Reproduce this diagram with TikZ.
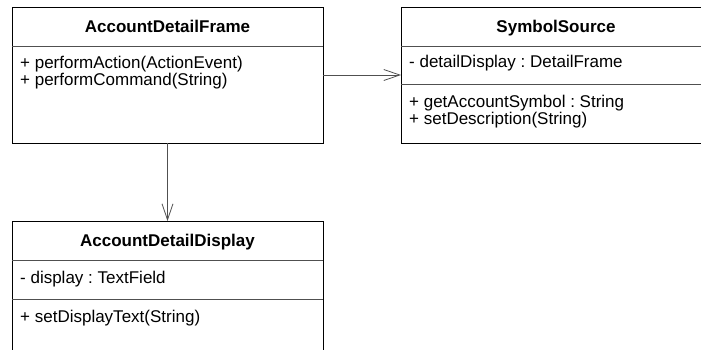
\documentclass[tikz,border=0pt]{standalone}
\usepackage{fontspec}
\setmainfont{Liberation Sans}
\usetikzlibrary{positioning, arrows.meta}
\definecolor{UMLGray}{RGB}{80,80,80}
\frenchspacing

\begin{document}
\begin{tikzpicture}[x=1pt, y=-1pt]
  \tikzstyle{classbox} = [rectangle, draw=black, line width=1pt, anchor=north west,
    inner sep=0pt, outer sep=0pt]
  \tikzstyle{classname} = [font=\fontsize{17}{18}\selectfont\bfseries, anchor=base, inner sep=0pt]
  \tikzstyle{member} = [font=\fontsize{17}{18}\selectfont, anchor=base west, inner sep=0pt]
  \tikzstyle{divider} = [draw=UMLGray, line width=1pt]
  \tikzstyle{assoc} = [draw=UMLGray, line width=0.8pt, -{Straight Barb[length=16pt, width=11pt]}]

  \useasboundingbox (0,0) rectangle (701,349);
  \clip (0,0) rectangle (701,349);

  % class boxes
  \node[classbox, minimum width=311pt, minimum height=136pt] (frame) at (12,7) {};
  \node[classbox, minimum width=320pt, minimum height=136pt] (source) at (401,7) {};
  \node[classbox, minimum width=311pt, minimum height=150pt] (display) at (12,221) {};

  % compartments
  \draw[divider] ([yshift=-39pt]frame.north west) -- ([yshift=-39pt]frame.north east);
  \draw[divider] ([yshift=-39pt]source.north west) -- ([yshift=-39pt]source.north east);
  \draw[divider] ([yshift=-77pt]source.north west) -- ([yshift=-77pt]source.north east);
  \draw[divider] ([yshift=-39pt]display.north west) -- ([yshift=-39pt]display.north east);
  \draw[divider] ([yshift=-78pt]display.north west) -- ([yshift=-78pt]display.north east);

  % AccountDetailFrame
  \node[classname] (frameName) at (167.5,32.3) {AccountDetailFrame};
  \node[member] (frameOpA) at (20,68) {+ performAction(ActionEvent)};
  \node[member] (frameOpB) at (20,85) {+ performCommand(String)};

  % SymbolSource
  \node[classname] (sourceName) at (556,32.3) {SymbolSource};
  \node[member] (sourceAttr) at (409,67) {- detailDisplay : DetailFrame};
  \node[member] (sourceOpA) at (409,107) {+ getAccountSymbol : String};
  \node[member] (sourceOpB) at (409,124) {+ setDescription(String)};

  % AccountDetailDisplay
  \node[classname] (displayName) at (167.5,246.5) {AccountDetailDisplay};
  \node[member] (displayAttr) at (20,283) {- display : TextField};
  \node[member] (displayOp) at (20,322) {+ setDisplayText(String)};

  % associations
  \draw[assoc] (frame) -- (source);
  \draw[assoc] (frame) -- (display);
\end{tikzpicture}
\end{document}
